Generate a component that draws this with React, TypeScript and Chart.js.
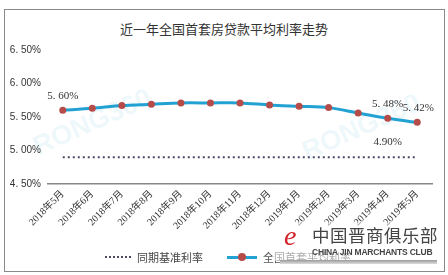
import React, { useEffect, useRef } from "react";
import { Chart, registerables } from "chart.js";

Chart.register(...registerables);

const categories = [
  "2018年5月", "2018年6月", "2018年7月", "2018年8月", "2018年9月", "2018年10月",
  "2018年11月", "2018年12月", "2019年1月", "2019年2月", "2019年3月", "2019年4月", "2019年5月",
];
const avgRate = [5.60, 5.63, 5.67, 5.69, 5.71, 5.71, 5.71, 5.68, 5.66, 5.64, 5.56, 5.48, 5.42];
const baseRate = [4.90, 4.90, 4.90, 4.90, 4.90, 4.90, 4.90, 4.90, 4.90, 4.90, 4.90, 4.90, 4.90];
const yTicks = [4.5, 5.0, 5.5, 6.0, 6.5];
const yTickLabels = ["4. 50%", "5. 00%", "5. 50%", "6. 00%", "6. 50%"];
const avgLabels: { index: number; text: string }[] = [
  { index: 0, text: "5. 60%" },
  { index: 11, text: "5. 48%" },
  { index: 12, text: "5. 42%" },
];
const baseLabels: { index: number; text: string }[] = [{ index: 11, text: "4.90%" }];

const SERIF = "'Liberation Serif', 'Noto Sans CJK SC', serif";
const SANS = "'Liberation Sans', 'Noto Sans CJK SC', sans-serif";

const labelPlugin = {
  id: "valueLabels",
  afterDatasetsDraw(chart: any) {
    const ctx = chart.ctx;
    const xs = chart.scales.x;
    const ys = chart.scales.y;
    ctx.save();
    ctx.fillStyle = "#333";
    ctx.font = `11px ${SERIF}`;
    ctx.textAlign = "center";
    ctx.textBaseline = "middle";
    avgLabels.forEach((l) => {
      const x = xs.getPixelForValue(l.index);
      const y = ys.getPixelForValue(avgRate[l.index]);
      const dx = l.index === 12 ? 1 : 0;
      ctx.fillText(l.text, x + dx, y - 14);
    });
    baseLabels.forEach((l) => {
      const x = xs.getPixelForValue(l.index);
      const y = ys.getPixelForValue(baseRate[l.index]);
      ctx.fillText(l.text, x, y - 15);
    });
    ctx.restore();
  },
};

export default function App() {
  const ref = useRef<HTMLCanvasElement | null>(null);
  useEffect(() => {
    if (!ref.current) return;
    const chart = new Chart(ref.current, {
      type: "line",
      data: {
        labels: categories,
        datasets: [
          {
            label: "全国首套平均利率",
            data: avgRate,
            borderColor: "#22a2d2",
            borderWidth: 3,
            backgroundColor: "#b54c4a",
            pointBackgroundColor: "#b54c4a",
            pointBorderColor: "#b54c4a",
            pointRadius: 3.5,
            pointBorderWidth: 0,
            tension: 0.3,
            fill: false,
            order: 1,
          },
          {
            label: "同期基准利率",
            data: baseRate,
            borderColor: "#4a4a66",
            borderWidth: 2,
            borderDash: [2, 3],
            pointRadius: 0,
            fill: false,
            order: 2,
          },
        ],
      },
      options: {
        animation: false,
        responsive: false,
        maintainAspectRatio: false,
        layout: { padding: { left: 0, right: 16, top: 50, bottom: 0 } },
        plugins: {
          legend: { display: false },
          title: { display: false },
          tooltip: { enabled: false },
        },
        scales: {
          x: {
            offset: true,
            grid: { display: false, drawTicks: false },
            border: { display: true, color: "#888", width: 1.5 },
            ticks: {
              color: "#333",
              font: { size: 10, family: SERIF },
              minRotation: 45,
              maxRotation: 45,
              autoSkip: false,
              padding: 4,
            },
            afterFit(scale: any) {
              scale.height = 91;
            },
          },
          y: {
            min: 4.5,
            max: 6.5,
            grid: { display: false, drawTicks: false },
            border: { display: false },
            afterBuildTicks(scale: any) {
              scale.ticks = yTicks.map((v) => ({ value: v }));
            },
            ticks: {
              color: "#333",
              font: { size: 10, family: SANS },
              padding: 7,
              callback: (v: any) => {
                const i = yTicks.findIndex((t) => Math.abs(t - Number(v)) < 1e-6);
                return i >= 0 ? yTickLabels[i] : "";
              },
            },
            afterFit(scale: any) {
              scale.width = 48;
            },
          },
        },
      },
      plugins: [labelPlugin],
    });
    return () => chart.destroy();
  }, []);

  return (
    <div style={{ position: "fixed", left: 0, top: 0, width: 448, height: 275, background: "#fff", overflow: "hidden" }}>
      <div
        style={{
          position: "absolute", left: 4, top: 9, width: 441, height: 263,
          border: "1px solid #8a8a8a", boxSizing: "border-box",
        }}
      />
      <div
        style={{
          position: "absolute", left: 0, top: 19, width: 448, textAlign: "center",
          fontFamily: "'Noto Sans CJK SC', serif", fontSize: 13, color: "#333",
        }}
      >
        近一年全国首套房贷款平均利率走势
      </div>
      {/* faint watermarks */}
      <div
        style={{
          position: "absolute", left: 40, top: 132, height: 28, lineHeight: "28px", fontFamily: SANS, fontSize: 27, fontWeight: 700,
          color: "rgba(120,200,230,0.13)", transform: "rotate(-24deg)", transformOrigin: "left bottom",
        }}
      >
        RONG360
      </div>
      <div
        style={{
          position: "absolute", left: 309, top: 137, height: 28, lineHeight: "28px", fontFamily: SANS, fontSize: 27, fontWeight: 700,
          color: "rgba(120,200,230,0.13)", transform: "rotate(-24deg)", transformOrigin: "left bottom",
        }}
      >
        RONG360
      </div>
      <canvas ref={ref} width={448} height={275} style={{ position: "absolute", left: 0, top: 0, width: 448, height: 275 }} />
      {/* legend */}
      <div style={{ position: "absolute", left: 105, top: 249, display: "flex", alignItems: "center", fontFamily: SERIF, fontSize: 11, color: "#444" }}>
        <div style={{ width: 26, height: 0, borderTop: "2px dotted #4a4a66", marginRight: 6 }} />
        <span style={{ fontFamily: "'Noto Sans CJK SC', serif" }}>同期基准利率</span>
      </div>
      <div style={{ position: "absolute", left: 227, top: 249, display: "flex", alignItems: "center", fontSize: 11, color: "#555" }}>
        <div style={{ position: "relative", width: 30, height: 3, background: "#22a2d2", marginRight: 6 }}>
          <div style={{ position: "absolute", left: 11, top: -2.5, width: 8, height: 8, borderRadius: 4, background: "#b54c4a" }} />
        </div>
        <span style={{ fontFamily: "'Noto Sans CJK SC', serif" }}>全国首套平均利率</span>
      </div>
      {/* club logo overlay */}
      <div style={{ position: "absolute", left: 272, top: 223, width: 166, height: 38, background: "rgba(255,255,255,0.5)" }} />
      <div style={{ position: "absolute", left: 284, top: 222, fontFamily: SERIF, fontStyle: "italic", fontSize: 28, color: "#d2232a", lineHeight: "28px" }}>e</div>
      <div style={{ position: "absolute", left: 312, top: 224, fontFamily: "'Noto Sans CJK SC', serif", fontSize: 17.5, color: "#444", letterSpacing: 0.5, lineHeight: "22px" }}>
        中国晋商俱乐部
      </div>
      <div style={{ position: "absolute", left: 312, top: 247, fontFamily: SANS, fontSize: 8.5, fontWeight: 700, color: "#444", lineHeight: "10px", letterSpacing: -0.2 }}>
        CHINA JIN MARCHANTS CLUB
      </div>
      <div style={{ position: "absolute", left: 280, top: 260, width: 157, height: 4, background: "linear-gradient(#999, #ddd)" }} />
    </div>
  );
}
